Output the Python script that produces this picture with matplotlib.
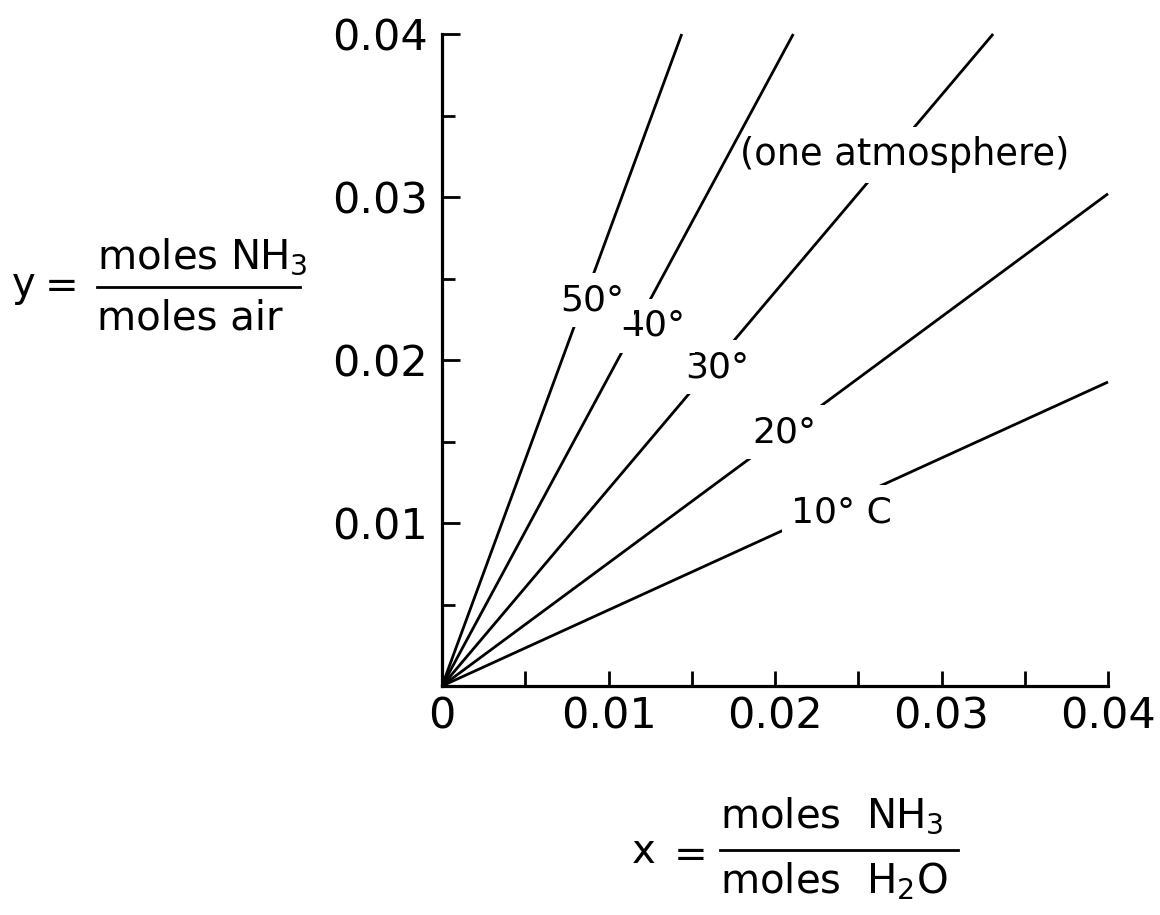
import matplotlib
matplotlib.use("Agg")
import matplotlib.pyplot as plt
from matplotlib.lines import Line2D
from matplotlib.ticker import MultipleLocator, FixedLocator

# equilibrium lines NH3 / air-water, one atmosphere
temps = ["10° C", "20°", "30°", "40°", "50°"]
x_end = [0.04, 0.04, 0.0331, 0.0211, 0.0144]
y_end = [0.01865, 0.0302, 0.04, 0.04, 0.04]

# label positions (data units)
lab_x = [0.02402, 0.02054, 0.01652, 0.01267, 0.00901]
lab_y = [0.01067, 0.01558, 0.01957, 0.02209, 0.02368]

x_ticks = [0, 0.01, 0.02, 0.03, 0.04]
x_ticklabels = ["0", "0.01", "0.02", "0.03", "0.04"]
y_ticks = [0.01, 0.02, 0.03, 0.04]
y_ticklabels = ["0.01", "0.02", "0.03", "0.04"]

W, H = 1160, 915
fig = plt.figure(figsize=(W / 100, H / 100), dpi=100)
plt.rcParams['font.family'] = ['DejaVu Sans']

# axes box in pixels: x 442..1108, y 34..686
ax = fig.add_axes([442 / W, 1 - 686 / H, (1108 - 442) / W, (686 - 34) / H])
ax.set_xlim(0, 0.04)
ax.set_ylim(0, 0.04)

for s in ("top", "right"):
    ax.spines[s].set_visible(False)
for s in ("left", "bottom"):
    ax.spines[s].set_linewidth(2.3)

for i in range(len(temps)):
    z = 3.5 if temps[i] == "40°" else 2
    ax.plot([0, x_end[i]], [0, y_end[i]], color="black", lw=2.0,
            solid_capstyle="butt", clip_on=False, zorder=z)
    ax.text(lab_x[i], lab_y[i], temps[i], fontsize=26, ha="center", va="center",
            zorder=4, bbox=dict(facecolor="white", edgecolor="none", pad=7))

ax.text(0.02781, 0.03258, "(one atmosphere)", fontsize=26.5, ha="center", va="center",
        zorder=3, bbox=dict(facecolor="white", edgecolor="none", pad=7))

ax.xaxis.set_major_locator(FixedLocator(x_ticks))
ax.set_xticklabels(x_ticklabels)
ax.xaxis.set_minor_locator(MultipleLocator(0.005))
ax.yaxis.set_major_locator(FixedLocator(y_ticks))
ax.set_yticklabels(y_ticklabels)
ax.yaxis.set_minor_locator(MultipleLocator(0.005))

ax.tick_params(axis="x", which="both", direction="in", length=11, width=2.0,
               labelsize=31, pad=7)
ax.tick_params(axis="y", which="major", direction="in", length=13, width=2.0,
               labelsize=31, pad=10)
ax.tick_params(axis="y", which="minor", direction="in", length=9, width=2.0)


def px(x, y):
    return x / W, 1 - y / H


# y label as a fraction
fig.text(*px(24, 285), "y", fontsize=29, ha="center", va="center")
fig.text(*px(62, 287), "=", fontsize=29, ha="center", va="center")
fig.text(*px(97, 268), "moles NH$_3$", fontsize=29, ha="left", va="baseline")
fig.text(*px(97, 330), "moles air", fontsize=29, ha="left", va="baseline")
fig.add_artist(Line2D([97 / W, 300 / W], [1 - 287 / H, 1 - 287 / H],
                      color="black", lw=2))

# x label as a fraction
fig.text(*px(644, 852), "x", fontsize=29, ha="center", va="center")
fig.text(*px(691, 856), "=", fontsize=29, ha="center", va="center")
fig.text(*px(720, 827), "moles  NH$_3$", fontsize=29, ha="left", va="baseline")
fig.text(*px(720, 893), "moles  H$_2$O", fontsize=29, ha="left", va="baseline")
fig.add_artist(Line2D([720 / W, 958 / W], [1 - 850 / H, 1 - 850 / H],
                      color="black", lw=2))

fig.savefig("out.png", dpi=100)
